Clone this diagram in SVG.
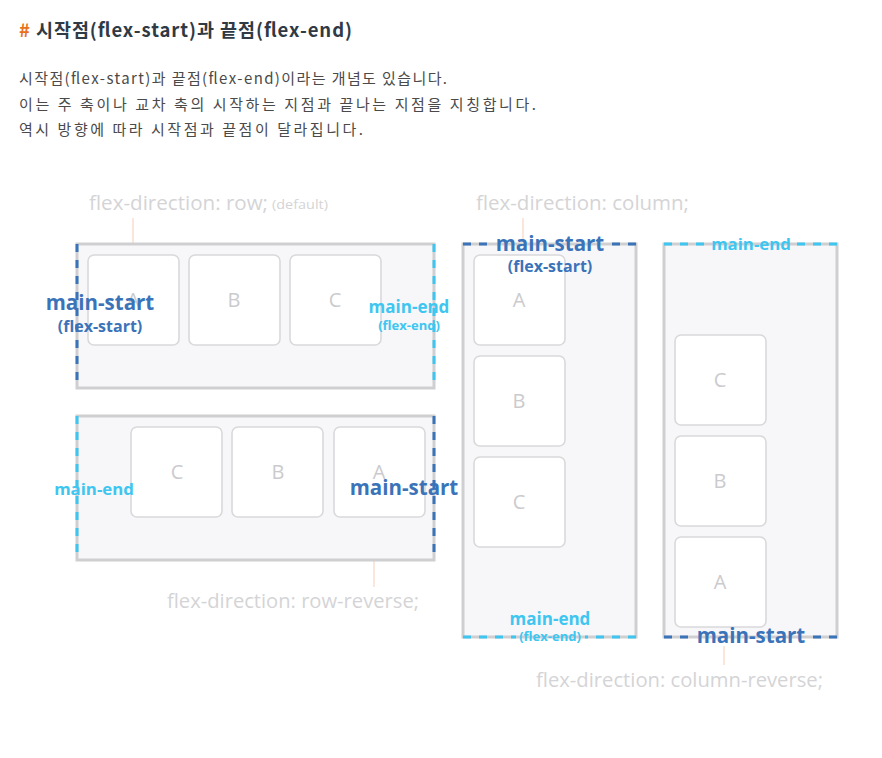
<svg xmlns="http://www.w3.org/2000/svg" width="882" height="758" viewBox="0 0 882 758">
<style>
.head{font-family:"Noto Sans CJK KR","Noto Sans",sans-serif;font-weight:700;font-size:18.5px;fill:#2f3a45}
.body{font-family:"Noto Sans CJK KR","Noto Sans",sans-serif;font-size:15px;fill:#4a4a4a}
.cap{font-family:"Open Sans","Noto Sans",sans-serif;font-size:20px;fill:#d4d4d6}
.capsm{font-family:"Open Sans","Noto Sans",sans-serif;font-size:13px;fill:#d4d4d6}
.box{fill:#f7f7f9;stroke:#cfcfd2;stroke-width:3}
.item{fill:#ffffff;stroke:#d9d9dc;stroke-width:1.6}
.let{font-family:"Open Sans","Noto Sans",sans-serif;font-size:20px;fill:#cbcbce;text-anchor:middle}
.ds{stroke:#3b73b9;stroke-width:3;stroke-dasharray:8 8;fill:none}
.de{stroke:#3ec6f0;stroke-width:3;stroke-dasharray:8 8;fill:none}
.ls{font-family:"Open Sans","Noto Sans",sans-serif;font-weight:700;fill:#3b73b9;text-anchor:middle}
.le{font-family:"Open Sans","Noto Sans",sans-serif;font-weight:700;fill:#3ec6f0;text-anchor:middle}
.tick{stroke:#f6cdb6;stroke-width:1}
</style>
<g id="header">
<text x="19" y="37" class="head" textLength="333" lengthAdjust="spacing"><tspan fill="#e8711c">#</tspan> 시작점(flex-start)과 끝점(flex-end)</text>
<text x="19" y="84" class="body" textLength="428" lengthAdjust="spacing">시작점(flex-start)과 끝점(flex-end)이라는 개념도 있습니다.</text>
<text x="19" y="110" class="body" textLength="517" lengthAdjust="spacing">이는 주 축이나 교차 축의 시작하는 지점과 끝나는 지점을 지칭합니다.</text>
<text x="19" y="135" class="body" textLength="344" lengthAdjust="spacing">역시 방향에 따라 시작점과 끝점이 달라집니다.</text>
</g>
<g id="connectors">
<line class="tick" x1="133" y1="218" x2="133" y2="243"/>
<line class="tick" x1="374" y1="561" x2="374" y2="587"/>
<line class="tick" x1="523" y1="218" x2="523" y2="241"/>
<line class="tick" x1="724" y1="646" x2="724" y2="665"/>
</g>
<g id="row">
<text x="89" y="210" class="cap" textLength="179" lengthAdjust="spacingAndGlyphs">flex-direction: row;</text>
<text x="272" y="209" class="capsm" textLength="56" lengthAdjust="spacingAndGlyphs">(default)</text>
<rect class="box" x="77" y="244" width="357" height="144"/>
<rect class="item" x="88" y="255" width="91" height="90" rx="6"/>
<rect class="item" x="189" y="255" width="91" height="90" rx="6"/>
<rect class="item" x="290" y="255" width="91" height="90" rx="6"/>
<text class="let" x="133" y="307">A</text>
<text class="let" x="234" y="307">B</text>
<text class="let" x="335" y="307">C</text>
<line class="ds" x1="77" y1="244" x2="77" y2="388"/>
<line class="de" x1="434" y1="244" x2="434" y2="388"/>
<text class="ls" x="100" y="310" font-size="20.5">main-start</text>
<text class="ls" x="100" y="332" font-size="16">(flex-start)</text>
<text class="le" x="409" y="313" font-size="17">main-end</text>
<text class="le" x="409" y="330" font-size="13">(flex-end)</text>
</g>
<g id="row-reverse">
<rect class="box" x="77" y="416" width="357" height="144"/>
<rect class="item" x="131" y="427" width="91" height="90" rx="6"/>
<rect class="item" x="232" y="427" width="91" height="90" rx="6"/>
<rect class="item" x="334" y="427" width="91" height="90" rx="6"/>
<text class="let" x="177" y="479">C</text>
<text class="let" x="278" y="479">B</text>
<text class="let" x="379" y="479">A</text>
<line class="de" x1="77" y1="416" x2="77" y2="560"/>
<line class="ds" x1="434" y1="416" x2="434" y2="560"/>
<text class="le" x="94" y="495" font-size="16.8">main-end</text>
<text class="ls" x="404" y="495" font-size="20.5">main-start</text>
<text x="167" y="608" class="cap" textLength="252" lengthAdjust="spacingAndGlyphs">flex-direction: row-reverse;</text>
</g>
<g id="column">
<text x="476" y="210" class="cap" textLength="213" lengthAdjust="spacingAndGlyphs">flex-direction: column;</text>
<rect class="box" x="463" y="244" width="173" height="393"/>
<rect class="item" x="474" y="255" width="91" height="90" rx="6"/>
<rect class="item" x="474" y="356" width="91" height="90" rx="6"/>
<rect class="item" x="474" y="457" width="91" height="90" rx="6"/>
<text class="let" x="519" y="307">A</text>
<text class="let" x="519" y="408">B</text>
<text class="let" x="519" y="509">C</text>
<line class="ds" x1="463" y1="244" x2="493" y2="244"/>
<line class="ds" x1="636" y1="244" x2="607" y2="244"/>
<line class="de" x1="463" y1="637" x2="516" y2="637"/>
<line class="de" x1="636" y1="637" x2="585" y2="637"/>
<text class="ls" x="550" y="251" font-size="20.5">main-start</text>
<text class="ls" x="550" y="272" font-size="16">(flex-start)</text>
<text class="le" x="550" y="625" font-size="17">main-end</text>
<text class="le" x="550" y="641" font-size="13">(flex-end)</text>
</g>
<g id="column-reverse">
<rect class="box" x="664" y="244" width="173" height="393"/>
<rect class="item" x="675" y="335" width="91" height="90" rx="6"/>
<rect class="item" x="675" y="436" width="91" height="90" rx="6"/>
<rect class="item" x="675" y="537" width="91" height="90" rx="6"/>
<text class="let" x="720" y="387">C</text>
<text class="let" x="720" y="488">B</text>
<text class="let" x="720" y="589">A</text>
<line class="de" x1="664" y1="244" x2="708" y2="244"/>
<line class="de" x1="837" y1="244" x2="795" y2="244"/>
<line class="ds" x1="664" y1="637" x2="695" y2="637"/>
<line class="ds" x1="837" y1="637" x2="807" y2="637"/>
<text class="le" x="751" y="250" font-size="16.8">main-end</text>
<text class="ls" x="751" y="643" font-size="20.5">main-start</text>
<text x="536" y="687" class="cap" textLength="287" lengthAdjust="spacingAndGlyphs">flex-direction: column-reverse;</text>
</g>
</svg>
